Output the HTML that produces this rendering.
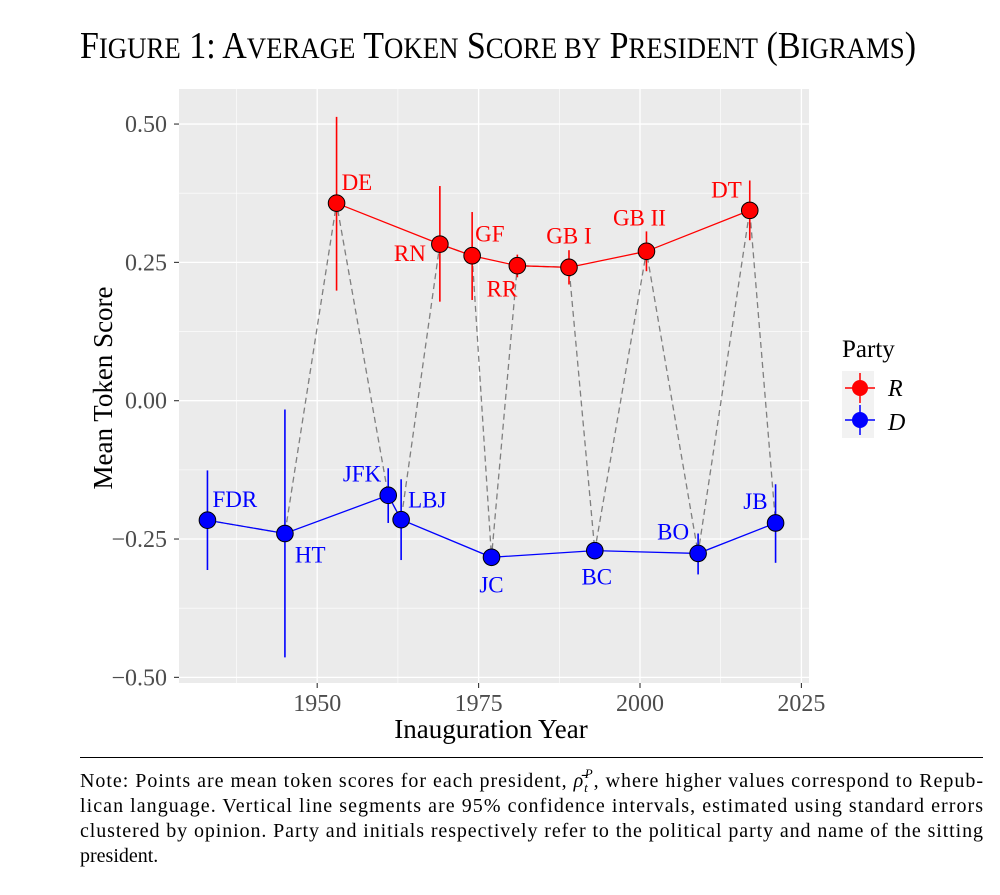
<!DOCTYPE html>
<html><head><meta charset="utf-8"><style>
html,body{margin:0;padding:0;background:#fff;}
svg{display:block;font-family:"Liberation Serif",serif;}
</style></head><body>
<svg id="chart" width="1000" height="895" viewBox="0 0 1000 895" xmlns="http://www.w3.org/2000/svg">
<text x="80" y="58" textLength="836" lengthAdjust="spacingAndGlyphs" font-size="38" fill="#000">F<tspan font-size="30">IGURE</tspan> 1:  A<tspan font-size="30">VERAGE</tspan> T<tspan font-size="30">OKEN</tspan> S<tspan font-size="30">CORE BY</tspan> P<tspan font-size="30">RESIDENT</tspan> (B<tspan font-size="30">IGRAMS</tspan>)</text>
<rect x="179" y="89" width="630" height="594" fill="#ebebeb"/>
<g id="grid"></g>
<g id="axes"></g>
<g id="marks"></g>
<text transform="translate(112,388) rotate(-90)" text-anchor="middle" font-size="27" fill="#000">Mean Token Score</text>
<text x="491" y="738" text-anchor="middle" font-size="27" fill="#000">Inauguration Year</text>
<g>
<text x="842" y="357" font-size="25" fill="#000">Party</text>
<rect x="842" y="371" width="32" height="34" fill="#f2f2f2"/>
<rect x="842" y="405" width="32" height="33" fill="#f2f2f2"/>
<line x1="845" y1="388" x2="875" y2="388" stroke="#ff0000" stroke-width="1.5"/>
<line x1="860" y1="373" x2="860" y2="403" stroke="#ff0000" stroke-width="1.5"/>
<circle cx="860" cy="388" r="8" fill="#ff0000"/>
<line x1="845" y1="420" x2="875" y2="420" stroke="#0000ff" stroke-width="1.5"/>
<line x1="860" y1="405" x2="860" y2="435" stroke="#0000ff" stroke-width="1.5"/>
<circle cx="860" cy="420" r="8" fill="#0000ff"/>
<text x="888" y="396" font-size="24" font-style="italic" fill="#000">R</text>
<text x="888" y="430" font-size="24" font-style="italic" fill="#000">D</text>
</g>
<line x1="80" y1="757.5" x2="983" y2="757.5" stroke="#000" stroke-width="1"/>
<g font-size="20" fill="#000">
<text x="80" y="787" textLength="903" lengthAdjust="spacing">Note: Points are mean token scores for each president, <tspan font-style="italic">ρ̄</tspan><tspan font-size="13" font-style="italic" dy="5">t</tspan><tspan font-size="13" font-style="italic" dx="-4" dy="-14">P</tspan><tspan dy="9">, where higher values correspond to Repub-</tspan></text>
<text x="80" y="812" textLength="903" lengthAdjust="spacing">lican language.  Vertical line segments are 95% confidence intervals, estimated using standard errors</text>
<text x="80" y="837" textLength="903" lengthAdjust="spacing">clustered by opinion. Party and initials respectively refer to the political party and name of the sitting</text>
<text x="80" y="862">president.</text>
</g>
</svg>
<script>
// ---- data ----
const rNames = ["DE","RN","GF","RR","GB I","GB II","DT"];
const rYears = [1953,1969,1974,1981,1989,2001,2017];
const rMeans = [0.357,0.283,0.262,0.244,0.241,0.270,0.344];
const rLow   = [0.199,0.179,0.182,0.223,0.210,0.234,0.290];
const rHigh  = [0.513,0.388,0.341,0.264,0.272,0.306,0.398];
const dNames = ["FDR","HT","JFK","LBJ","JC","BC","BO","JB"];
const dYears = [1933,1945,1961,1963,1977,1993,2009,2021];
const dMeans = [-0.216,-0.240,-0.171,-0.215,-0.283,-0.271,-0.276,-0.221];
const dLow   = [-0.306,-0.464,-0.221,-0.288,-0.294,-0.281,-0.314,-0.293];
const dHigh  = [-0.126,-0.016,-0.122,-0.142,-0.268,-0.261,-0.240,-0.151];
const xTicks = [1950,1975,2000,2025];
const yTicks = [-0.5,-0.25,0,0.25,0.5];
const yTickLabels = ["\u22120.50","\u22120.25","0.00","0.25","0.50"];

const NS="http://www.w3.org/2000/svg";
const X = y => 317.2 + (y-1950)*6.456;
const Y = v => 400.7 - v*553.3;
function mk(tag, attrs, parent){const e=document.createElementNS(NS,tag);for(const k in attrs)e.setAttribute(k,attrs[k]);parent.appendChild(e);return e;}
const grid=document.getElementById('grid'), axes=document.getElementById('axes'), marks=document.getElementById('marks');
const PL=179, PR=809, PT=89, PB=683;
for (let i=0;i<xTicks.length;i++){
  const m=xTicks[i]-12.5; const xm=X(m);
  if(xm>PL){const l=mk('line',{x1:xm,x2:xm,y1:PT,y2:PB,stroke:'#fff','stroke-width':0.6},grid);
  
  }
}
for (let i=0;i<yTicks.length-1;i++){
  const m=(yTicks[i]+yTicks[i+1])/2; const ym=Y(m);
  const l=mk('line',{x1:PL,x2:PR,y1:ym,y2:ym,stroke:'#fff','stroke-width':0.6},grid);
  
  
}
xTicks.forEach(t=>{
  const x=X(t);
  const l=mk('line',{x1:x,x2:x,y1:PT,y2:PB,stroke:'#fff','stroke-width':1.3},grid);
  
  
  const tk=mk('line',{x1:x,x2:x,y1:PB,y2:PB+5,stroke:'#333','stroke-width':1.1},axes);
  
  
  const tx=mk('text',{x:x,y:PB+28,'text-anchor':'middle','font-size':24,fill:'#4d4d4d'},axes);
  tx.textContent=t;
  
  
});
yTicks.forEach((t,i)=>{
  const y=Y(t);
  const l=mk('line',{x1:PL,x2:PR,y1:y,y2:y,stroke:'#fff','stroke-width':1.3},grid);
  
  
  const tk=mk('line',{x1:PL-5,x2:PL,y1:y,y2:y,stroke:'#333','stroke-width':1.1},axes);
  
  
  const tx=mk('text',{x:PL-12,y:y+8,'text-anchor':'end','font-size':24,fill:'#4d4d4d'},axes);
  tx.textContent=yTickLabels[i];
  
  
});
const all=[];
rYears.forEach((y,i)=>all.push([y,rMeans[i]]));
dYears.forEach((y,i)=>all.push([y,dMeans[i]]));
all.sort((a,b)=>a[0]-b[0]);
const dash=mk('polyline',{points:all.map(p=>X(p[0])+','+Y(p[1])).join(' '),fill:'none',stroke:'#7f7f7f','stroke-width':1.3,'stroke-dasharray':'6,4'},marks);


const labelPos={"DE":[5,-13,'start'],"RN":[-14,17,'end'],"GF":[3,-14,'start'],"RR":[0,31,'end'],"GB I":[0,-24,'middle'],"GB II":[-7,-26,'middle'],"DT":[-8,-13,'end'],
"FDR":[5,-13,'start'],"HT":[10,29,'start'],"JFK":[-7,-14,'end'],"LBJ":[7,-12,'start'],"JC":[0,35,'middle'],"BC":[2,34,'middle'],"BO":[-9,-14,'end'],"JB":[-8,-14,'end']};
function series(names,years,means,low,high,col,party){
  const line=mk('polyline',{points:years.map((y,i)=>X(y)+','+Y(means[i])).join(' '),fill:'none',stroke:col,'stroke-width':1.3},marks);
  
  
  years.forEach((yr,i)=>{
    const eb=mk('line',{x1:X(yr),x2:X(yr),y1:Y(low[i]),y2:Y(high[i]),stroke:col,'stroke-width':1.6},marks);
    
    
  });
  years.forEach((yr,i)=>{
    const c=mk('circle',{cx:X(yr),cy:Y(means[i]),r:8.3,fill:col,stroke:'#000','stroke-width':1},marks);
    
    
    const p=labelPos[names[i]]||[5,-13,'start'];
    const t=mk('text',{x:X(yr)+p[0],y:Y(means[i])+p[1],'text-anchor':p[2],'font-size':23,fill:col},marks);
    t.textContent=names[i];
    
    
  });
}
series(dNames,dYears,dMeans,dLow,dHigh,'#0000ff','democrat');
series(rNames,rYears,rMeans,rLow,rHigh,'#ff0000','republican');
</script>
</body></html>
